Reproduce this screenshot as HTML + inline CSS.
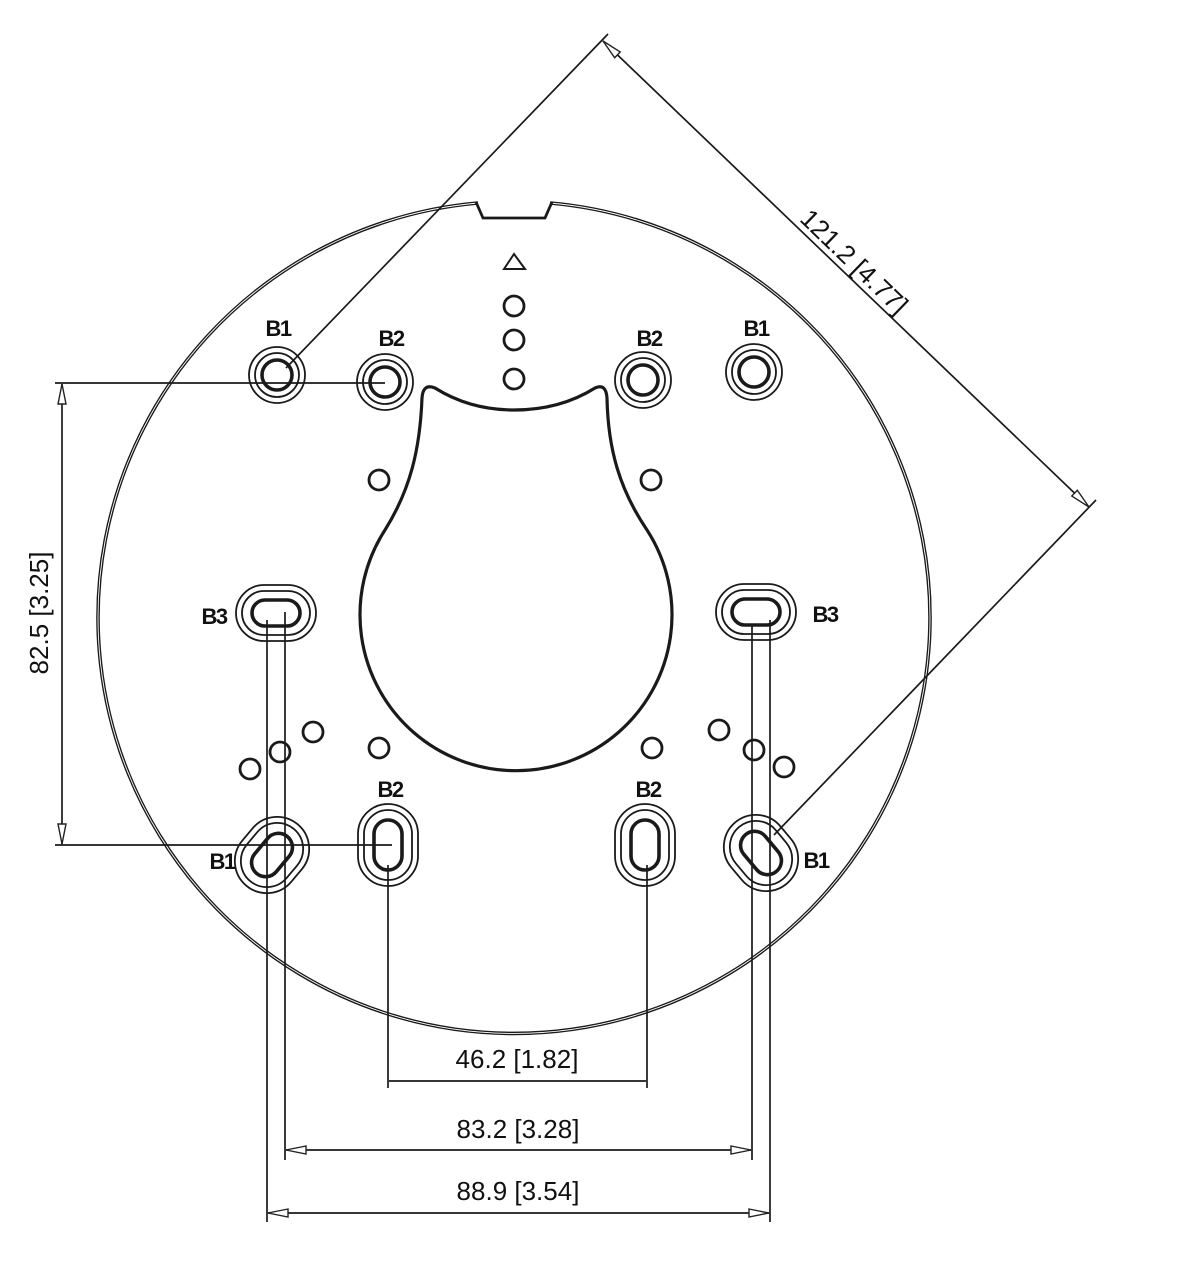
<!DOCTYPE html>
<html><head><meta charset="utf-8"><style>
html,body{margin:0;padding:0;background:#fff}
svg{display:block}
text{font-family:"Liberation Sans",Arial,sans-serif;fill:#111}
.b{font-weight:bold;font-size:22px;letter-spacing:-1.5px}
.d{font-size:26px}
</style></head><body>
<svg width="1192" height="1280" viewBox="0 0 1192 1280" xmlns="http://www.w3.org/2000/svg">
<defs>
<marker id="ar" markerWidth="22" markerHeight="12" refX="21" refY="6" orient="auto" markerUnits="userSpaceOnUse">
<path d="M1,2 L21,6 L1,10 Z" fill="#fff" stroke="#222" stroke-width="1.4"/>
</marker>
<marker id="al" markerWidth="22" markerHeight="12" refX="1" refY="6" orient="auto" markerUnits="userSpaceOnUse">
<path d="M21,2 L1,6 L21,10 Z" fill="#fff" stroke="#222" stroke-width="1.4"/>
</marker>
</defs>
<g fill="none" stroke="#1a1a1a">
<path d="M478,203 A416,416 0 1 0 550,203" stroke-width="3.6"/>
<path d="M478,203 A416,416 0 1 0 550,203" stroke="#fff" stroke-width="0.9"/>
<path d="M476,202 L483,218 L545,218 L552,202" stroke-width="2.8"/>
<path d="M504,269 L514,254 L525,269 Z" stroke-width="2"/>
<g stroke-width="2.8">
<circle cx="514" cy="306" r="10"/><circle cx="514" cy="340" r="10"/><circle cx="514" cy="379" r="10"/>
<circle cx="379" cy="480" r="10"/><circle cx="651" cy="480" r="10"/>
<circle cx="379" cy="748" r="10"/><circle cx="652" cy="748" r="10"/>
<circle cx="313" cy="732" r="10"/><circle cx="280" cy="752" r="10"/><circle cx="250" cy="769" r="10"/>
<circle cx="719" cy="730" r="10"/><circle cx="754" cy="750" r="10"/><circle cx="784" cy="767" r="10"/>
</g>
<path d="M435,388 Q470,410 514,410 Q560,410 595,388 Q606,383 607,398 C608,450 620,490 647,530 A156,156 0 1 1 385,530 C410,490 420,450 422,398 Q423,383 435,388 Z" stroke-width="3.2"/>
<g>
<g transform="translate(277,375)"><circle r="28" stroke-width="1.8"/><circle r="22" stroke-width="1.8"/><circle r="15" stroke-width="3.6"/></g>
<g transform="translate(385,382)"><circle r="28" stroke-width="1.8"/><circle r="22" stroke-width="1.8"/><circle r="15" stroke-width="3.6"/></g>
<g transform="translate(643,380)"><circle r="28" stroke-width="1.8"/><circle r="22" stroke-width="1.8"/><circle r="15" stroke-width="3.6"/></g>
<g transform="translate(754,372)"><circle r="28" stroke-width="1.8"/><circle r="22" stroke-width="1.8"/><circle r="15" stroke-width="3.6"/></g>
</g>
<g transform="translate(276,613)"><rect x="-40" y="-28" width="80" height="56" rx="28" stroke-width="1.8"/><rect x="-34" y="-22" width="68" height="44" rx="22" stroke-width="1.8"/><rect x="-24" y="-13" width="48" height="26" rx="13" stroke-width="3.6"/></g>
<g transform="translate(756,612)"><rect x="-40" y="-28" width="80" height="56" rx="28" stroke-width="1.8"/><rect x="-34" y="-22" width="68" height="44" rx="22" stroke-width="1.8"/><rect x="-24" y="-13" width="48" height="26" rx="13" stroke-width="3.6"/></g>
<g transform="translate(388,845)"><rect x="-30" y="-41" width="60" height="82" rx="30" stroke-width="1.8"/><rect x="-24" y="-35" width="48" height="70" rx="24" stroke-width="1.8"/><rect x="-14" y="-25" width="28" height="50" rx="14" stroke-width="3.6"/></g>
<g transform="translate(645,845)"><rect x="-30" y="-41" width="60" height="82" rx="30" stroke-width="1.8"/><rect x="-24" y="-35" width="48" height="70" rx="24" stroke-width="1.8"/><rect x="-14" y="-25" width="28" height="50" rx="14" stroke-width="3.6"/></g>
<g transform="translate(272,855) rotate(40)"><rect x="-32" y="-40" width="64" height="80" rx="32" stroke-width="1.8"/><rect x="-26" y="-34" width="52" height="68" rx="26" stroke-width="1.8"/><rect x="-14" y="-24" width="28" height="48" rx="14" stroke-width="3.6"/></g>
<g transform="translate(761,853) rotate(-40)"><rect x="-32" y="-40" width="64" height="80" rx="32" stroke-width="1.8"/><rect x="-26" y="-34" width="52" height="68" rx="26" stroke-width="1.8"/><rect x="-14" y="-24" width="28" height="48" rx="14" stroke-width="3.6"/></g>
<g stroke-width="1.7">
<line x1="55" y1="383" x2="385" y2="383"/>
<line x1="55" y1="845" x2="392" y2="845"/>
<line x1="62" y1="384" x2="62" y2="844" marker-start="url(#al)" marker-end="url(#ar)"/>
<line x1="286" y1="368" x2="608" y2="34"/>
<line x1="774" y1="835" x2="1096" y2="500"/>
<line x1="603" y1="41" x2="1089" y2="507" marker-start="url(#al)" marker-end="url(#ar)"/>
<line x1="267" y1="620" x2="267" y2="1222"/>
<line x1="285" y1="612" x2="285" y2="1160"/>
<line x1="388" y1="865" x2="388" y2="1088"/>
<line x1="647" y1="865" x2="647" y2="1088"/>
<line x1="752" y1="625" x2="752" y2="1160"/>
<line x1="770" y1="620" x2="770" y2="1222"/>
<line x1="389" y1="1081" x2="646" y2="1081"/>
<line x1="286" y1="1150" x2="751" y2="1150" marker-start="url(#al)" marker-end="url(#ar)"/>
<line x1="268" y1="1213" x2="769" y2="1213" marker-start="url(#al)" marker-end="url(#ar)"/>
</g>
</g>
<text class="b" x="278" y="336" text-anchor="middle">B1</text>
<text class="b" x="391" y="346" text-anchor="middle">B2</text>
<text class="b" x="649" y="346" text-anchor="middle">B2</text>
<text class="b" x="756" y="336" text-anchor="middle">B1</text>
<text class="b" x="214" y="624" text-anchor="middle">B3</text>
<text class="b" x="825" y="622" text-anchor="middle">B3</text>
<text class="b" x="390" y="797" text-anchor="middle">B2</text>
<text class="b" x="648" y="797" text-anchor="middle">B2</text>
<text class="b" x="222" y="869" text-anchor="middle">B1</text>
<text class="b" x="816" y="868" text-anchor="middle">B1</text>
<text class="d" x="517" y="1068" text-anchor="middle">46.2 [1.82]</text>
<text class="d" x="518" y="1138" text-anchor="middle">83.2 [3.28]</text>
<text class="d" x="518" y="1200" text-anchor="middle">88.9 [3.54]</text>
<text class="d" transform="translate(48,613) rotate(-90)" text-anchor="middle">82.5 [3.25]</text>
<text class="d" transform="translate(848,268) rotate(44)" text-anchor="middle">121.2 [4.77]</text>
</svg>
</body></html>
